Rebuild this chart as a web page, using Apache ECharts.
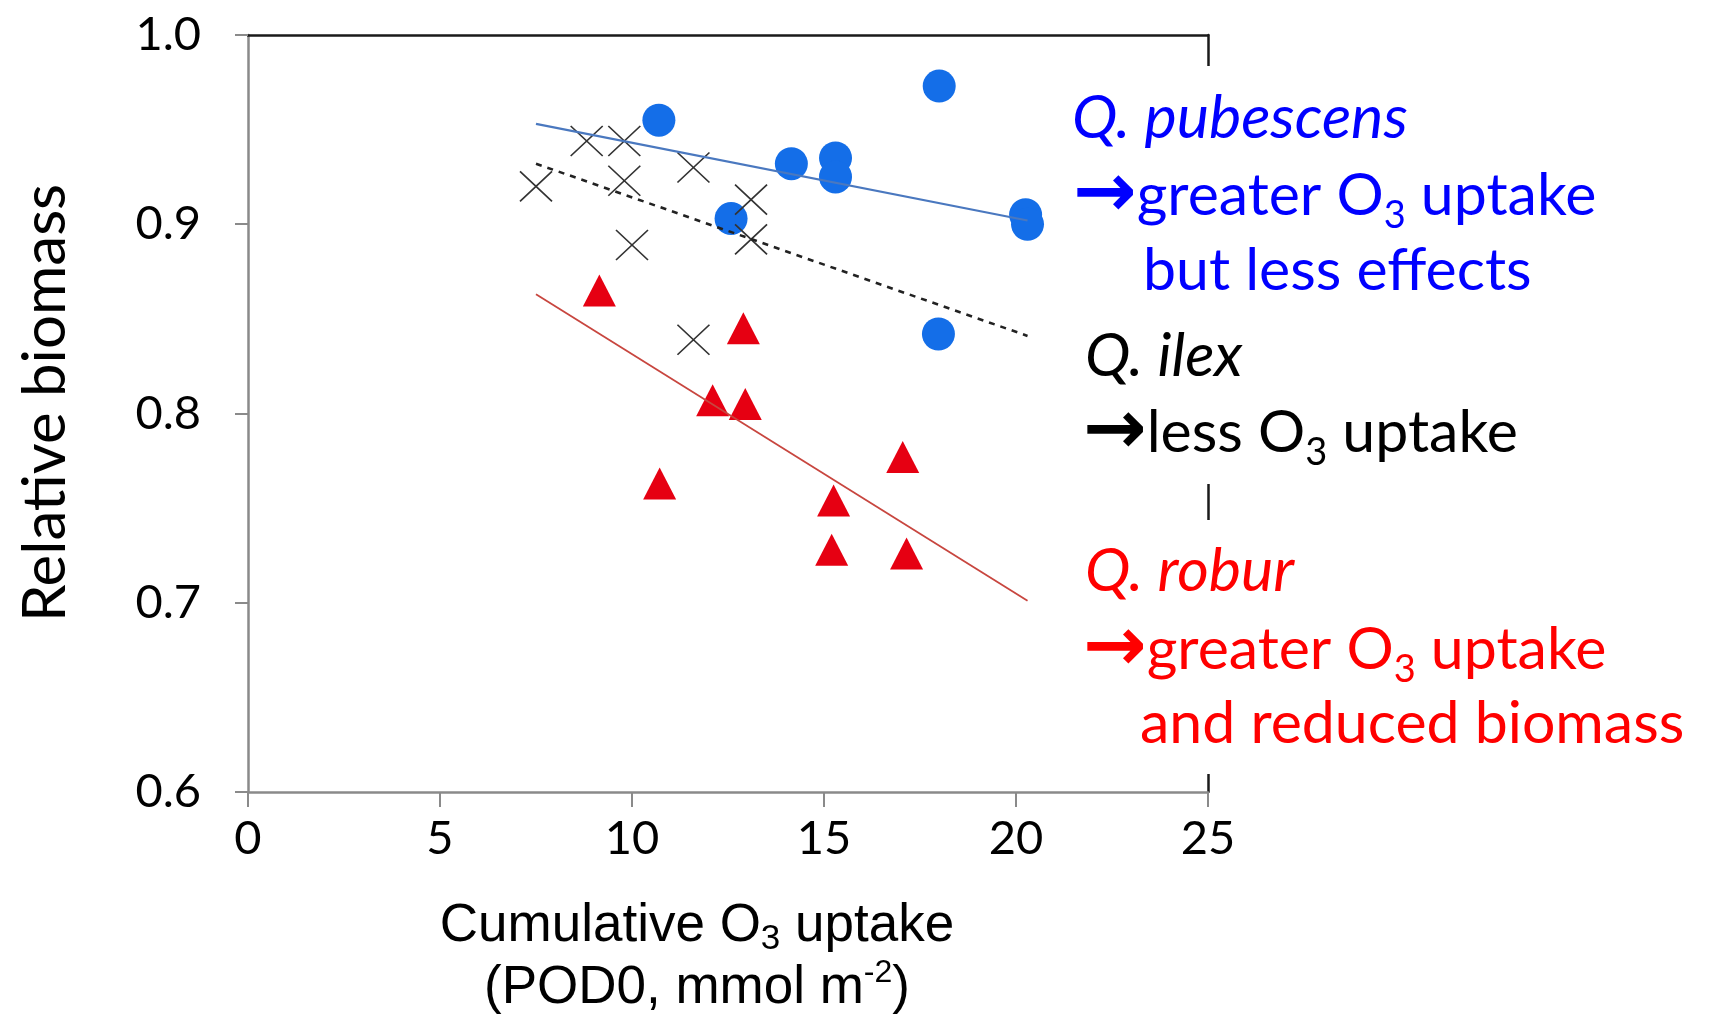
<!DOCTYPE html>
<html>
<head>
<meta charset="utf-8">
<title>Relative biomass vs cumulative O3 uptake</title>
<script src="https://cdn.jsdelivr.net/npm/echarts@6/dist/echarts.min.js"></script>
<style>
  html, body { margin: 0; padding: 0; background: #ffffff; }
  #chart { width: 1709px; height: 1018px; }
</style>
</head>
<body>
<div id="chart"></div>
<script>
// Q. pubescens (blue circles)
const pubescensX = [10.7, 18.0, 14.15, 15.3, 15.3, 12.58, 20.25, 20.3, 17.98];
const pubescensY = [0.955, 0.973, 0.932, 0.935, 0.925, 0.903, 0.905, 0.900, 0.842];
// Q. ilex (crosses)
const ilexX = [8.82, 9.8, 7.5, 9.8, 11.6, 13.1, 13.1, 10.0, 11.6];
const ilexY = [0.944, 0.944, 0.920, 0.923, 0.930, 0.913, 0.892, 0.889, 0.839];
// Q. robur (red triangles)
const roburX = [9.15, 12.9, 12.1, 12.95, 10.72, 17.05, 15.25, 15.2, 17.15];
const roburY = [0.865, 0.845, 0.807, 0.805, 0.763, 0.777, 0.754, 0.728, 0.726];
// Linear trends, start and end of each fitted line
const trendX = [7.5, 20.3];
const pubescensTrend = [0.953, 0.902];
const ilexTrend = [0.932, 0.841];
const roburTrend = [0.863, 0.701];
// Axis ranges and ticks
const xRange = [0, 25], xStep = 5;
const yRange = [0.6, 1.0], yStep = 0.1;

const pairs = (xs, ys) => xs.map((x, i) => [x, ys[i]]);

const TXT = 'Lato';
const CROSS = 'path://M0,0L10,10M10,0L0,10';

// Species notes on the right-hand side
const noteRich = {
  q:  { fontFamily: TXT, fontStyle: 'italic', fontSize: 61, lineHeight: 77 },
  t:  { fontFamily: TXT, fontSize: 59, lineHeight: 77 },
  s:  { fontFamily: TXT, fontSize: 38, lineHeight: 38, verticalAlign: 'bottom' },
  ar: { fontFamily: 'DejaVu Sans', fontWeight: 'bold', fontSize: 76, lineHeight: 77 }
};
const notes = [
  { x: 1072, y: 118, color: '#0000ff', text: '{q|Q. pubescens}' },
  { x: 1073, y: 196, color: '#0000ff', text: '{ar|→}{t|greater O}{s|3}{t| uptake}' },
  { x: 1143, y: 271, color: '#0000ff', text: '{t|but less effects}' },
  { x: 1085, y: 356, color: '#000000', text: '{q|Q. ilex}' },
  { x: 1083, y: 433, color: '#000000', text: '{ar|→}{t|less O}{s|3}{t| uptake}' },
  { x: 1085, y: 571, color: '#ff0000', text: '{q|Q. robur}' },
  { x: 1083, y: 650, color: '#ff0000', text: '{ar|→}{t|greater O}{s|3}{t| uptake}' },
  { x: 1140, y: 724, color: '#ff0000', text: '{t|and reduced biomass}' }
];

const graphics = [
  // white panels behind the notes interrupt the right frame line
  { type: 'rect', shape: { x: 1060, y: 66, width: 649, height: 418 }, style: { fill: '#ffffff' }, z: 50 },
  { type: 'rect', shape: { x: 1060, y: 520, width: 649, height: 254 }, style: { fill: '#ffffff' }, z: 50 }
].concat(notes.map(n => ({
  type: 'text', x: n.x, y: n.y, z: 60,
  style: {
    text: n.text, fill: n.color,
    textVerticalAlign: 'middle', verticalAlign: 'middle',
    rich: Object.fromEntries(Object.entries(noteRich).map(([k, v]) => [k, Object.assign({ fill: n.color }, v)]))
  }
})));

const axisGray = '#8a8a8a';

const option = {
  animation: false,
  backgroundColor: '#ffffff',
  grid: { left: 248, top: 35, width: 960, height: 757, outerBoundsMode: 'none', containLabel: false },
  xAxis: [{
    type: 'value', min: xRange[0], max: xRange[1], interval: xStep, position: 'bottom',
    axisLine: { show: true, onZero: false, lineStyle: { color: axisGray, width: 2.5 } },
    axisTick: { show: true, length: 15, lineStyle: { color: axisGray, width: 2 } },
    axisLabel: { fontFamily: TXT, fontSize: 47, color: '#000', margin: 23 },
    splitLine: { show: false },
    name: '{a|Cumulative O}{s|3}{a| uptake}\n{a|(POD0, mmol m}{p|-2}{a|)}',
    nameLocation: 'middle', nameGap: 103, nameMoveOverlap: false,
    nameTextStyle: {
      padding: [0, 62, 0, 0],
      rich: {
        a: { fontFamily: 'Liberation Sans', fontSize: 53, lineHeight: 62, color: '#000' },
        s: { fontFamily: 'Liberation Sans', fontSize: 35, lineHeight: 33, verticalAlign: 'bottom', color: '#000' },
        p: { fontFamily: 'Liberation Sans', fontSize: 32, lineHeight: 24, verticalAlign: 'top', color: '#000' }
      }
    }
  }, {
    type: 'value', min: xRange[0], max: xRange[1], interval: xStep, position: 'top',
    axisLine: { show: true, onZero: false, lineStyle: { color: '#1a1a1a', width: 2.5 } },
    axisTick: { show: false }, axisLabel: { show: false }, splitLine: { show: false }
  }],
  yAxis: [{
    type: 'value', min: yRange[0], max: yRange[1], interval: yStep, position: 'left',
    axisLine: { show: true, onZero: false, lineStyle: { color: axisGray, width: 2.5 } },
    axisTick: { show: true, length: 13, lineStyle: { color: axisGray, width: 2 } },
    axisLabel: { fontFamily: TXT, fontSize: 47, color: '#000', margin: 47, formatter: v => v.toFixed(1) },
    splitLine: { show: false },
    name: 'Relative biomass', nameLocation: 'middle', nameGap: 172, nameRotate: 90, nameMoveOverlap: false,
    nameTextStyle: { fontFamily: TXT, fontSize: 60, color: '#000', padding: [0, 0, 0, 21] }
  }, {
    type: 'value', min: yRange[0], max: yRange[1], interval: yStep, position: 'right',
    axisLine: { show: true, onZero: false, lineStyle: { color: '#1a1a1a', width: 2.5 } },
    axisTick: { show: false }, axisLabel: { show: false }, splitLine: { show: false }
  }],
  series: [
    { type: 'line', name: 'Q. pubescens trend', data: pairs(trendX, pubescensTrend), symbol: 'none', silent: true,
      lineStyle: { color: '#4a78bf', width: 2.2 } },
    { type: 'scatter', name: 'Q. pubescens', data: pairs(pubescensX, pubescensY), symbol: 'circle', symbolSize: 33,
      itemStyle: { color: '#146ee8', opacity: 1 } },
    { type: 'scatter', name: 'Q. ilex', data: pairs(ilexX, ilexY), symbol: CROSS, symbolSize: [32, 30], symbolKeepAspect: false,
      itemStyle: { color: '#333333', borderColor: '#333333', borderWidth: 1.6, opacity: 1 } },
    { type: 'line', name: 'Q. ilex trend', data: pairs(trendX, ilexTrend), symbol: 'none', silent: true,
      lineStyle: { color: '#222222', width: 2.6, type: [6, 6] } },
    { type: 'line', name: 'Q. robur trend', data: pairs(trendX, roburTrend), symbol: 'none', silent: true,
      lineStyle: { color: '#c8463f', width: 1.8 } },
    { type: 'scatter', name: 'Q. robur', data: pairs(roburX, roburY), symbol: 'triangle', symbolSize: [33, 32],
      itemStyle: { color: '#e60012', opacity: 1 } }
  ],
  graphic: graphics
};

const chart = echarts.init(document.getElementById('chart'), null, { renderer: 'canvas' });
chart.setOption(option);
</script>
</body>
</html>
